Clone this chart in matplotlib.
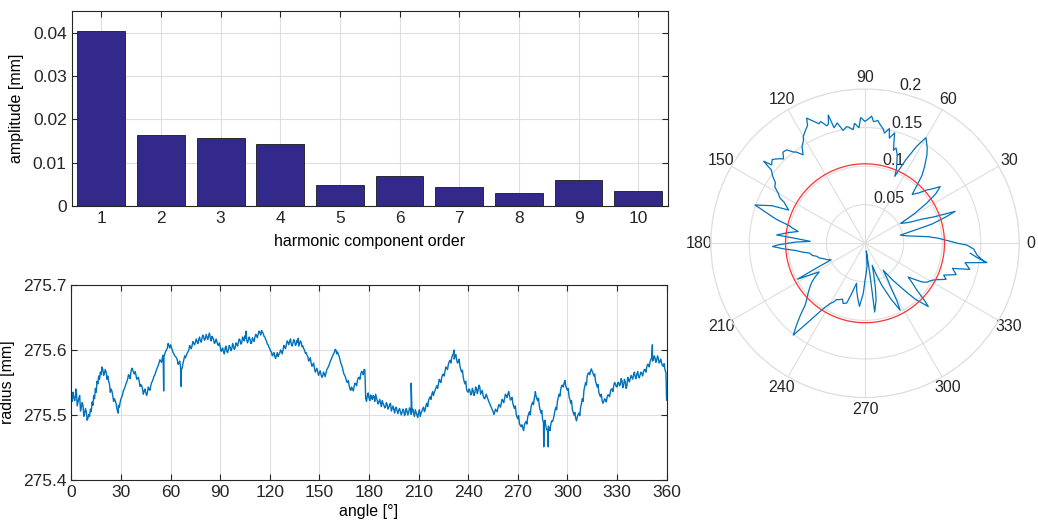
import numpy as np
import matplotlib
matplotlib.use('Agg')
import matplotlib.pyplot as plt

plt.rcParams['font.family'] = ['Liberation Sans', 'DejaVu Sans']
plt.rcParams['font.size'] = 11.5

# ---------------- data ----------------
# harmonic spectrum
harm_order = [1, 2, 3, 4, 5, 6, 7, 8, 9, 10]
harm_amp = [0.0405, 0.0163, 0.0156, 0.0144, 0.0048, 0.0069, 0.0043, 0.0031, 0.0061, 0.0035]

# radius profile, one value per degree 0..360
radius_mm = [
    275.528, 275.535, 275.522, 275.538, 275.520, 275.530, 275.512, 275.515, 275.503, 275.505,
    275.495, 275.498, 275.505, 275.515, 275.525, 275.535, 275.548, 275.555, 275.562, 275.570,
    275.565, 275.566, 275.560, 275.548, 275.540, 275.530, 275.525, 275.518, 275.505, 275.512,
    275.525, 275.532, 275.540, 275.548, 275.555, 275.560, 275.566, 275.570, 275.563, 275.562,
    275.556, 275.552, 275.547, 275.540, 275.537, 275.534, 275.535, 275.540, 275.545, 275.552,
    275.560, 275.566, 275.573, 275.580, 275.583, 275.588, 275.590, 275.598, 275.603, 275.607,
    275.608, 275.600, 275.594, 275.590, 275.585, 275.580, 275.574, 275.572, 275.585, 275.588,
    275.595, 275.600, 275.604, 275.607, 275.610, 275.612, 275.613, 275.616, 275.614, 275.618,
    275.620, 275.617, 275.620, 275.622, 275.618, 275.621, 275.616, 275.612, 275.613, 275.607,
    275.605, 275.600, 275.597, 275.603, 275.598, 275.601, 275.604, 275.602, 275.606, 275.603,
    275.609, 275.612, 275.615, 275.611, 275.618, 275.622, 275.616, 275.615, 275.617, 275.611,
    275.616, 275.620, 275.622, 275.625, 275.627, 275.630, 275.626, 275.620, 275.614, 275.608,
    275.602, 275.597, 275.593, 275.590, 275.592, 275.590, 275.595, 275.598, 275.600, 275.605,
    275.608, 275.612, 275.613, 275.609, 275.611, 275.614, 275.609, 275.612, 275.610, 275.611,
    275.606, 275.600, 275.596, 275.590, 275.585, 275.580, 275.577, 275.572, 275.569, 275.566,
    275.565, 275.562, 275.560, 275.563, 275.565, 275.572, 275.578, 275.585, 275.591, 275.596,
    275.600, 275.597, 275.590, 275.580, 275.572, 275.562, 275.556, 275.550, 275.545, 275.538,
    275.540, 275.544, 275.548, 275.553, 275.558, 275.563, 275.566, 275.570, 275.525, 275.530,
    275.526, 275.531, 275.524, 275.528, 275.532, 275.522, 275.520, 275.518, 275.522, 275.515,
    275.513, 275.516, 275.512, 275.518, 275.510, 275.508, 275.511, 275.506, 275.508, 275.505,
    275.504, 275.507, 275.503, 275.506, 275.504, 275.508, 275.505, 275.502, 275.508, 275.500,
    275.504, 275.498, 275.506, 275.512, 275.508, 275.518, 275.522, 275.528, 275.532, 275.530,
    275.538, 275.545, 275.548, 275.552, 275.558, 275.563, 275.568, 275.572, 275.578, 275.584,
    275.588, 275.594, 275.590, 275.585, 275.582, 275.575, 275.566, 275.558, 275.548, 275.540,
    275.535, 275.538, 275.532, 275.537, 275.534, 275.541, 275.538, 275.543, 275.535, 275.530,
    275.525, 275.532, 275.524, 275.518, 275.512, 275.506, 275.504, 275.507, 275.511, 275.515,
    275.518, 275.522, 275.526, 275.530, 275.532, 275.529, 275.524, 275.518, 275.510, 275.502,
    275.494, 275.487, 275.482, 275.480, 275.485, 275.490, 275.497, 275.505, 275.512, 275.520,
    275.526, 275.530, 275.522, 275.514, 275.503, 275.493, 275.488, 275.482, 275.478, 275.480,
    275.486, 275.490, 275.500, 275.512, 275.522, 275.532, 275.540, 275.546, 275.549, 275.545,
    275.538, 275.528, 275.518, 275.508, 275.500, 275.495, 275.497, 275.503, 275.512, 275.525,
    275.538, 275.550, 275.560, 275.565, 275.568, 275.567, 275.560, 275.552, 275.543, 275.535,
    275.528, 275.522, 275.521, 275.524, 275.527, 275.531, 275.536, 275.540, 275.545, 275.548,
    275.543, 275.550, 275.547, 275.553, 275.546, 275.551, 275.545, 275.554, 275.556, 275.558,
    275.562, 275.559, 275.563, 275.560, 275.562, 275.564, 275.566, 275.570, 275.574, 275.578,
    275.582, 275.588, 275.585, 275.588, 275.584, 275.587, 275.582, 275.580, 275.575, 275.570,
    275.523,
]
# half-degree wiggles between the whole-degree samples
wiggle_mm = [
    275.521, 275.527, 275.530, 275.514, 275.526, 275.506, 275.519, 275.498, 275.510, 275.492,
    275.501, 275.509, 275.520, 275.530, 275.541, 275.552, 275.560, 275.566, 275.574, 275.561,
    275.570, 275.555, 275.552, 275.535, 275.537, 275.521, 275.522, 275.510, 275.515, 275.520,
    275.528, 275.538, 275.544, 275.551, 275.562, 275.556, 275.572, 275.566, 275.567, 275.555,
    275.558, 275.544, 275.545, 275.532, 275.540, 275.530, 275.543, 275.538, 275.550, 275.556,
    275.562, 275.570, 275.576, 275.585, 275.581, 275.592, 275.594, 275.600, 275.610, 275.603,
    275.604, 275.596, 275.591, 275.588, 275.578, 275.583, 275.570, 275.580, 275.591, 275.592,
    275.597, 275.607, 275.602, 275.613, 275.608, 275.617, 275.610, 275.620, 275.612, 275.623,
    275.615, 275.624, 275.616, 275.626, 275.614, 275.619, 275.610, 275.617, 275.608, 275.611,
    275.598, 275.603, 275.594, 275.606, 275.596, 275.607, 275.599, 275.610, 275.601, 275.611,
    275.606, 275.617, 275.609, 275.620, 275.614, 275.618, 275.611, 275.620, 275.610, 275.619,
    275.613, 275.624, 275.619, 275.629, 275.623, 275.627, 275.621, 275.616, 275.609, 275.604,
    275.598, 275.591, 275.596, 275.587, 275.596, 275.593, 275.600, 275.594, 275.607, 275.602,
    275.614, 275.608, 275.617, 275.606, 275.616, 275.607, 275.615, 275.606, 275.614, 275.605,
    275.602, 275.595, 275.592, 275.583, 275.588, 275.575, 275.580, 275.566, 275.572, 275.561,
    275.568, 275.558, 275.566, 275.559, 275.570, 275.575, 275.582, 275.588, 275.594, 275.601,
    275.594, 275.593, 275.584, 275.576, 275.566, 275.560, 275.551, 275.553, 275.540, 275.543,
    275.537, 275.549, 275.545, 275.557, 275.555, 275.567, 275.562, 275.568, 275.521, 275.534,
    275.522, 275.527, 275.530, 275.521, 275.527, 275.517, 275.524, 275.513, 275.518, 275.511,
    275.519, 275.509, 275.516, 275.506, 275.514, 275.503, 275.512, 275.502, 275.510, 275.500,
    275.509, 275.499, 275.510, 275.500, 275.511, 275.501, 275.509, 275.498, 275.504, 275.496,
    275.508, 275.503, 275.510, 275.505, 275.515, 275.513, 275.526, 275.524, 275.536, 275.535,
    275.542, 275.541, 275.555, 275.550, 275.562, 275.560, 275.574, 275.570, 275.582, 275.580,
    275.592, 275.586, 275.593, 275.580, 275.586, 275.570, 275.569, 275.552, 275.552, 275.536,
    275.540, 275.531, 275.541, 275.530, 275.543, 275.533, 275.546, 275.532, 275.538, 275.526,
    275.529, 275.527, 275.520, 275.514, 275.508, 275.501, 275.509, 275.505, 275.516, 275.512,
    275.524, 275.519, 275.532, 275.527, 275.536, 275.523, 275.527, 275.513, 275.514, 275.497,
    275.499, 275.484, 275.485, 275.476, 275.488, 275.486, 275.501, 275.500, 275.517, 275.516,
    275.533, 275.525, 275.526, 275.508, 275.507, 275.489, 275.492, 275.477, 275.483, 275.476,
    275.491, 275.494, 275.507, 275.508, 275.527, 275.529, 275.545, 275.543, 275.553, 275.541,
    275.541, 275.524, 275.522, 275.504, 275.504, 275.491, 275.501, 275.499, 275.517, 275.521,
    275.544, 275.546, 275.564, 275.562, 275.571, 275.564, 275.563, 275.548, 275.547, 275.531,
    275.532, 275.518, 275.525, 275.520, 275.531, 275.528, 275.540, 275.536, 275.550, 275.544,
    275.550, 275.545, 275.556, 275.542, 275.555, 275.541, 275.558, 275.551, 275.561, 275.555,
    275.566, 275.556, 275.567, 275.557, 275.566, 275.560, 275.570, 275.566, 275.578, 275.574,
    275.586, 275.583, 275.591, 275.581, 275.591, 275.580, 275.586, 275.576, 275.579, 275.566,
]
# isolated spikes in the profile
spike_deg = [2.6, 28.3, 55.8, 66.4, 105.6, 137.2, 177.4, 205.5, 231.4, 280.6, 285.7, 288.4, 351.4, 359.6]
spike_mm = [275.540, 275.503, 275.537, 275.544, 275.629, 275.618, 275.570, 275.549, 275.600, 275.536, 275.451, 275.451, 275.608, 275.565]

# polar deviation trace (vertices in drawing order)
polar_deg = [
    -9, -6, -3, -1, 0, 2, 4, 6, 9, 11, 13, 15, 16, 18, 19.5, 20, 21, 23, 25, 27,
    29, 31, 33, 35, 37, 39, 41, 43, 46, 48, 50, 52, 55, 57, 60, 61, 62, 64, 66, 67,
    68, 70, 72, 73, 75, 77, 78, 80, 81, 83, 84, 86, 87, 89, 90, 92, 93, 95, 96, 98,
    99, 101, 103, 105, 106, 107, 108, 110, 111, 113, 115, 116, 118, 120, 121, 123,
    125, 127, 128, 130, 132, 134, 135, 137, 138, 140, 141, 142, 144, 146, 148, 150,
    152, 153, 155, 156.5, 158, 160.8, 162, 164, 165, 167, 168, 170, 172, 174.6, 176,
    178, 179, 180, 181, 182, 184, 186, 188, 190, 193, 195, 198, 200, 203, 206, 207,
    208, 210, 212, 214, 216, 218, 220, 222, 224, 226, 228, 230, 232, 234, 236.6, 238,
    240, 242, 243, 246, 248, 250, 253, 255, 258, 260, 262, 264, 265, 268, 270, 272,
    275, 278, 280, 279, 278, 281, 283, 286, 288, 290, 292, 295, 297.7, 299, 300, 302,
    304, 307, 310, 312, 315, 316, 318, 320, 322, 324, 326, 328, 331, 333, 336, 338,
    341, 344, 346, 349, 351, 353, 354.6,
]
polar_r = [
    0.157, 0.146, 0.141, 0.132, 0.120, 0.106, 0.095, 0.082, 0.060, 0.052, 0.047, 0.070, 0.090, 0.110, 0.124, 0.112, 0.095, 0.080, 0.065, 0.058,
    0.053, 0.075, 0.095, 0.112, 0.122, 0.112, 0.105, 0.096, 0.088, 0.100, 0.115, 0.125, 0.140, 0.148, 0.158, 0.150, 0.142, 0.120, 0.095, 0.104,
    0.110, 0.122, 0.130, 0.126, 0.148, 0.140, 0.152, 0.145, 0.150, 0.156, 0.160, 0.158, 0.165, 0.160, 0.158, 0.163, 0.150, 0.156, 0.148, 0.152,
    0.153, 0.149, 0.160, 0.155, 0.173, 0.162, 0.160, 0.168, 0.166, 0.172, 0.179, 0.170, 0.165, 0.160, 0.155, 0.150,
    0.140, 0.148, 0.150, 0.158, 0.159, 0.152, 0.155, 0.160, 0.162, 0.158, 0.169, 0.154, 0.148, 0.140, 0.138, 0.130,
    0.125, 0.118, 0.112, 0.108, 0.130, 0.151, 0.140, 0.125, 0.118, 0.100, 0.097, 0.088, 0.100, 0.115, 0.090,
    0.071, 0.090, 0.100, 0.112, 0.120, 0.105, 0.090, 0.082, 0.073, 0.070, 0.065, 0.062, 0.058, 0.054, 0.049, 0.070,
    0.099, 0.082, 0.070, 0.078, 0.085, 0.090, 0.095, 0.100, 0.105, 0.112, 0.125, 0.138, 0.151, 0.128, 0.106, 0.098,
    0.090, 0.086, 0.082, 0.080, 0.078, 0.083, 0.081, 0.068, 0.053, 0.062, 0.070, 0.078, 0.082, 0.065, 0.048, 0.040,
    0.030, 0.015, 0.010, 0.040, 0.090, 0.075, 0.060, 0.040, 0.030, 0.045, 0.060, 0.080, 0.098, 0.085, 0.070, 0.055,
    0.042, 0.060, 0.080, 0.098, 0.116, 0.108, 0.090, 0.080, 0.071, 0.080, 0.090, 0.095, 0.099, 0.104, 0.115, 0.110,
    0.125, 0.118, 0.140, 0.132, 0.160, 0.145, 0.137,
]
mean_circle_r = 0.103

# ---------------- figure ----------------
fig = plt.figure(figsize=(10.38, 5.28), dpi=100)

spine_col = '#262626'
grid_col = '#dedede'


def style_box(ax):
    for s in ax.spines.values():
        s.set_color(spine_col)
        s.set_linewidth(0.8)
    ax.tick_params(direction='in', top=True, right=True, length=4,
                   width=0.8, colors=spine_col, labelcolor='#262626',
                   labelsize=12.5)
    ax.grid(True, color=grid_col, linewidth=0.8)
    ax.set_axisbelow(True)


# bar chart
ax1 = fig.add_axes([0.0689, 0.6098, 0.5747, 0.3693])
ax1.bar(harm_order, harm_amp, width=0.8, color='#33298a', edgecolor='#1a1a1a', linewidth=0.6)
ax1.set_xlim(0.5, 10.5)
ax1.set_ylim(0, 0.045)
ax1.set_xticks(harm_order)
ax1.set_yticks([0, 0.01, 0.02, 0.03, 0.04])
ax1.set_yticklabels(['0', '0.01', '0.02', '0.03', '0.04'])
ax1.set_xlabel('harmonic component order', labelpad=6)
ax1.set_ylabel('amplitude [mm]', labelpad=6)
style_box(ax1)

# radius profile
n = len(radius_mm)
deg_all = np.concatenate([np.arange(n), np.arange(n - 1) + 0.5, spike_deg])
mm_all = np.concatenate([radius_mm, wiggle_mm, spike_mm])
order = np.argsort(deg_all, kind='stable')
ax2 = fig.add_axes([0.0688, 0.0909, 0.5734, 0.3693])
ax2.plot(deg_all[order], mm_all[order], color='#0072bd', linewidth=1.0)
ax2.set_xlim(0, 360)
ax2.set_ylim(275.4, 275.7)
ax2.set_xticks(np.arange(0, 361, 30))
ax2.set_yticks([275.4, 275.5, 275.6, 275.7])
ax2.set_yticklabels(['275.4', '275.5', '275.6', '275.7'])
ax2.set_xlabel('angle [°]', labelpad=3)
ax2.set_ylabel('radius [mm]', labelpad=6)
style_box(ax2)

# polar plot
ax3 = fig.add_axes([0.6847, 0.247, 0.2973, 0.5845], projection='polar')
ax3.plot(np.deg2rad(polar_deg), polar_r, color='#0072bd', linewidth=0.9)
circ = np.linspace(0, 2 * np.pi, 361)
ax3.plot(circ, np.full_like(circ, mean_circle_r), color='#ff3030', linewidth=0.9)
ax3.set_ylim(0, 0.2)
ax3.set_yticks([0.05, 0.1, 0.15, 0.2])
ax3.set_yticklabels(['0.05', '0.1', '0.15', '0.2'])
ax3.set_rlabel_position(77)
ax3.set_thetagrids(np.arange(0, 360, 30), [str(a) for a in range(0, 360, 30)])
ax3.tick_params(axis='x', pad=-2, labelsize=11.5)
ax3.tick_params(axis='y', labelsize=11.5)
ax3.grid(True, color=grid_col, linewidth=0.8)
ax3.spines['polar'].set_color(grid_col)
for lab in ax3.get_xticklabels() + ax3.get_yticklabels():
    lab.set_color('#262626')

fig.savefig('out.png', dpi=100)
